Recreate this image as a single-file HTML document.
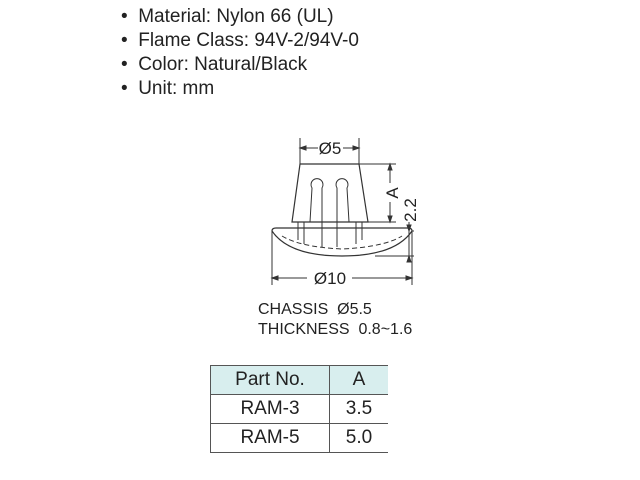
<!DOCTYPE html>
<html><head><style>
body{margin:0;width:640px;height:480px;background:#fff;font-family:"Liberation Sans",sans-serif;position:relative;overflow:hidden;color:#222}
.b{position:absolute;left:121px;font-size:19px;line-height:24px}
.t{position:absolute;left:258px;font-size:16px}
table{position:absolute;left:210px;top:365px;border-collapse:collapse;font-size:19px}
td{height:28px;border:1.5px solid #555;text-align:center;padding:0}
</style></head><body>
<div class="b" style="top:5px">•&nbsp; Material: Nylon 66 (UL)</div>
<div class="b" style="top:29px">•&nbsp; Flame Class: 94V-2/94V-0</div>
<div class="b" style="top:53px">•&nbsp; Color: Natural/Black</div>
<div class="b" style="top:77px">•&nbsp; Unit: mm</div>
<svg width="640" height="480" style="position:absolute;left:0;top:0" fill="none" stroke="#333" stroke-width="1">
<line x1="300" y1="138" x2="300" y2="164"/><line x1="359" y1="138" x2="359" y2="164"/>
<line x1="300" y1="148" x2="318" y2="148"/><line x1="343" y1="148" x2="359" y2="148"/>
<path d="M300 148l6-2v4zM359 148l-6-2v4z" fill="#333"/>
<text x="330" y="154" font-size="17" fill="#222" stroke="none" text-anchor="middle" font-family="Liberation Sans">Ø5</text>
<path d="M300 164H359L368 222H292Z" stroke-width="1.2"/>
<path d="M310 222L312 188A6 6 0 1 1 322 188L322 222M337 222L337 188A6 6 0 1 1 347 188L349 222"/>
<path d="M298 222V240M304 222V244M362 222V240M356 222V244M322 222V247M337 222V247"/>
<path d="M272 231Q272 228 276 228H408Q412 228 412 231Q395 256 342 256Q289 256 272 231Z" stroke-width="1.2"/>
<path d="M282 236Q300 247 342 249Q384 247 402 236" stroke-dasharray="5 3"/>
<line x1="359" y1="164" x2="396" y2="164"/><line x1="368" y1="222" x2="396" y2="222"/>
<line x1="390" y1="164" x2="390" y2="183"/><line x1="390" y1="202" x2="390" y2="222"/>
<path d="M390 164l-2 6h4zM390 222l-2-6h4z" fill="#333"/>
<text transform="translate(398,193) rotate(-90)" font-size="17" fill="#222" stroke="none" text-anchor="middle" font-family="Liberation Sans">A</text>
<line x1="412" y1="231" x2="414" y2="231"/><line x1="375" y1="256" x2="414" y2="256"/>
<line x1="409" y1="222" x2="409" y2="262"/>
<path d="M409 231l-2-6h4zM409 256l-2 6h4z" fill="#333"/>
<text transform="translate(416,210) rotate(-90)" font-size="17" fill="#222" stroke="none" text-anchor="middle" font-family="Liberation Sans">2.2</text>
<line x1="272" y1="231" x2="272" y2="285"/><line x1="412" y1="231" x2="412" y2="285"/>
<line x1="272" y1="278" x2="307" y2="278"/><line x1="352" y1="278" x2="412" y2="278"/>
<path d="M272 278l6-2v4zM412 278l-6-2v4z" fill="#333"/>
<text x="330" y="284" font-size="17" fill="#222" stroke="none" text-anchor="middle" font-family="Liberation Sans">Ø10</text>
</svg>
<div class="t" style="top:301px">CHASSIS&nbsp; Ø5.5</div>
<div class="t" style="top:321px">THICKNESS&nbsp; 0.8~1.6</div>
<table>
<tr style="background:#d8eeee"><td style="width:118px">Part No.</td><td style="width:58px;border-right:none">A</td></tr>
<tr><td>RAM-3</td><td style="border-right:none">3.5</td></tr>
<tr><td>RAM-5</td><td style="border-right:none">5.0</td></tr>
</table>
</body></html>
